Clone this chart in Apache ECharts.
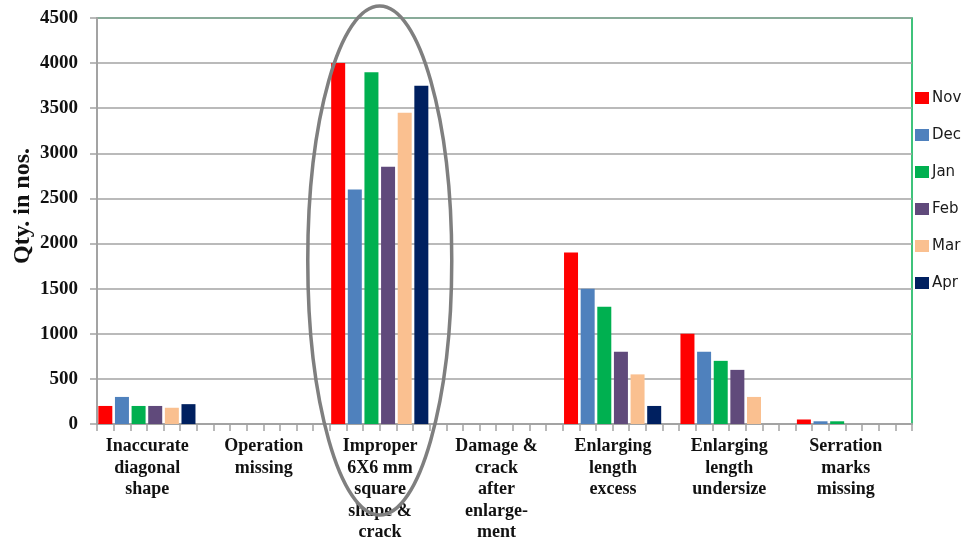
<!DOCTYPE html>
<html>
<head>
<meta charset="utf-8">
<title>Defect quantities by month</title>
<script src="https://cdn.jsdelivr.net/npm/echarts@6/dist/echarts.min.js"></script>
<style>
  html, body { margin: 0; padding: 0; background: #ffffff; }
  #chart { width: 966px; height: 540px; }
</style>
</head>
<body>
<div id="chart"></div>
<script>
// Defect categories along the x axis
const categories = [
  'Inaccurate\ndiagonal\nshape',
  'Operation\nmissing',
  'Improper\n6X6 mm\nsquare\nshape &\ncrack',
  'Damage &\ncrack\nafter\nenlarge-\nment',
  'Enlarging\nlength\nexcess',
  'Enlarging\nlength\nundersize',
  'Serration\nmarks\nmissing'
];

// Months shown in the legend
const months = ['Nov', 'Dec', 'Jan', 'Feb', 'Mar', 'Apr'];

// Quantity (nos.) per category for each month
const nov = [200, 0, 4000, 0, 1900, 1000, 50];
const dec = [300, 0, 2600, 0, 1500, 800, 30];
const jan = [200, 0, 3900, 0, 1300, 700, 30];
const feb = [200, 0, 2850, 0, 800, 600, 0];
const mar = [180, 0, 3450, 0, 550, 300, 0];
const apr = [220, 0, 3750, 0, 200, 0, 0];

// Value axis range
const yMin = 0;
const yMax = 4500;
const yStep = 500;

const monthValues = [nov, dec, jan, feb, mar, apr];
const monthColors = ['#FF0000', '#4F81BD', '#00B050', '#604A7B', '#FAC090', '#002060'];

// Each category owns seven slots: one per month plus a blank spacer slot
const SLOTS = months.length + 1;
const slotAxis = [];
for (let i = 0; i < categories.length * SLOTS; i++) slotAxis.push(String(i));

function slotData(values, monthIndex) {
  const out = new Array(categories.length * SLOTS).fill('-');
  values.forEach((v, g) => { out[g * SLOTS + monthIndex] = v; });
  return out;
}

const serif = '"Liberation Serif", "Times New Roman", serif';
const gray = '#a3a3a3';

const chart = echarts.init(document.getElementById('chart'), null, { renderer: 'canvas' });

const option = {
  animation: false,
  backgroundColor: '#ffffff',
  grid: {
    left: 97, right: 54, top: 18, bottom: 116,
    containLabel: false,
    outerBoundsMode: 'none',
    show: true,
    borderColor: '#00B050',
    borderWidth: 1.5,
    backgroundColor: 'transparent'
  },
  legend: {
    orient: 'vertical',
    left: 915,
    top: 90,
    padding: 0,
    itemWidth: 14,
    itemHeight: 12,
    itemGap: 21,
    icon: 'rect',
    data: months,
    textStyle: {
      fontFamily: '"DejaVu Sans", sans-serif',
      fontSize: 15,
      color: '#1a1a1a',
      lineHeight: 16,
      padding: [0, 0, 0, -2]
    }
  },
  xAxis: [
    {
      type: 'category',
      data: slotAxis,
      boundaryGap: true,
      position: 'bottom',
      axisLine: { show: true, lineStyle: { color: gray, width: 2 } },
      axisTick: { show: true, interval: 0, length: 7, lineStyle: { color: gray, width: 1.5 } },
      axisLabel: { show: false },
      splitLine: { show: false }
    },
    {
      type: 'category',
      data: categories,
      position: 'bottom',
      axisLine: { show: false },
      axisTick: { show: false },
      splitLine: { show: false },
      axisLabel: {
        interval: 0,
        margin: 12,
        fontFamily: serif,
        fontWeight: 'bold',
        fontSize: 18,
        lineHeight: 21.5,
        color: '#111111',
        align: 'center',
        padding: [0, 16, 0, 0]
      }
    }
  ],
  yAxis: {
    type: 'value',
    min: yMin,
    max: yMax,
    interval: yStep,
    name: 'Qty. in nos.',
    nameLocation: 'middle',
    nameGap: 62,
    nameMoveOverlap: false,
    nameRotate: 90,
    nameTextStyle: {
      fontFamily: serif,
      fontWeight: 'bold',
      fontSize: 24,
      color: '#111111',
      padding: [0, 0, 0, 30]
    },
    axisLine: { show: true, lineStyle: { color: gray, width: 2 } },
    axisTick: { show: true, length: 7, lineStyle: { color: gray, width: 1.5 } },
    axisLabel: {
      margin: 19,
      fontFamily: serif,
      fontWeight: 'bold',
      fontSize: 19,
      color: '#111111',
      formatter: (v) => String(v)
    },
    splitLine: { show: true, lineStyle: { color: gray, width: 1.5 } }
  },
  series: months.map((m, i) => ({
    name: m,
    type: 'bar',
    xAxisIndex: 0,
    barWidth: 14,
    barGap: '-100%',
    itemStyle: { color: monthColors[i] },
    data: slotData(monthValues[i], i)
  }))
};

chart.setOption(option);

// Outline ring drawn around the "Improper 6X6 mm square shape & crack" group
const groupIndex = 2;
const leftSlot = chart.convertToPixel({ xAxisIndex: 0 }, String(groupIndex * SLOTS + 2));
const rightSlot = chart.convertToPixel({ xAxisIndex: 0 }, String(groupIndex * SLOTS + 3));
const topPx = chart.convertToPixel({ yAxisIndex: 0 }, yMax) - 12;
const basePx = chart.convertToPixel({ yAxisIndex: 0 }, yMin) + 91;

chart.setOption({
  graphic: [{
    type: 'ellipse',
    z: 100,
    silent: true,
    shape: {
      cx: (leftSlot + rightSlot) / 2,
      cy: (topPx + basePx) / 2,
      rx: 72,
      ry: (basePx - topPx) / 2
    },
    style: { fill: 'none', stroke: '#7f7f7f', lineWidth: 3.5 }
  }]
});
</script>
</body>
</html>
